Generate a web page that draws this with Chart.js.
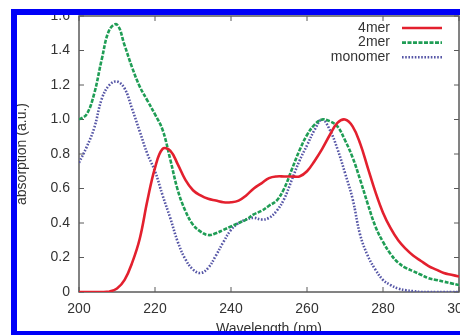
<!DOCTYPE html>
<html>
<head>
<meta charset="utf-8">
<script src="https://cdn.jsdelivr.net/npm/chart.js@4/dist/chart.umd.min.js"></script>
<style>
  html, body { margin: 0; padding: 0; background: #fff; overflow: hidden; }
  #wrap { position: relative; width: 460px; height: 335px; }
  #chart { position: absolute; left: 0; top: 0; }
  #frame {
    position: absolute; left: 11px; top: 9px; width: 520px; height: 328px;
    box-sizing: border-box; border: 6px solid #0000f8; pointer-events: none;
  }
</style>
</head>
<body>
<div id="wrap">
  <canvas id="chart" width="460" height="335"></canvas>
  <div id="frame"></div>
</div>
<script>
// wavelength (nm)
const wavelengths = [200, 202, 204, 206, 208, 210, 212, 214, 216, 218,
  220, 222, 224, 226, 228, 230, 232, 234, 236, 238,
  240, 242, 244, 246, 248, 250, 252, 254, 256, 258,
  260, 262, 264, 266, 268, 270, 272, 274, 276, 278,
  280, 282, 284, 286, 288, 290, 292, 294, 296, 298, 300];

const tetramer = [0, 0, 0, 0, 0.003, 0.02, 0.07, 0.17, 0.31, 0.53,
  0.72, 0.83, 0.82, 0.74, 0.65, 0.59, 0.56, 0.54, 0.53, 0.52,
  0.52, 0.53, 0.56, 0.60, 0.63, 0.66, 0.67, 0.67, 0.67, 0.67,
  0.70, 0.76, 0.83, 0.91, 0.98, 1.00, 0.96, 0.86, 0.72, 0.58,
  0.46, 0.37, 0.30, 0.25, 0.21, 0.18, 0.15, 0.13, 0.11, 0.10, 0.09];

const dimer = [1.00, 1.03, 1.15, 1.35, 1.52, 1.55, 1.43, 1.30, 1.19, 1.11,
  1.03, 0.94, 0.77, 0.59, 0.47, 0.39, 0.35, 0.33, 0.34, 0.36,
  0.38, 0.40, 0.42, 0.45, 0.47, 0.50, 0.53, 0.60, 0.71, 0.82,
  0.91, 0.97, 1.00, 0.99, 0.96, 0.88, 0.78, 0.65, 0.51, 0.38,
  0.29, 0.22, 0.17, 0.14, 0.12, 0.10, 0.08, 0.07, 0.06, 0.05, 0.04];

const monomer = [0.75, 0.84, 0.95, 1.12, 1.20, 1.22, 1.18, 1.06, 0.93, 0.80,
  0.70, 0.56, 0.43, 0.29, 0.19, 0.13, 0.11, 0.14, 0.21, 0.29,
  0.36, 0.40, 0.42, 0.43, 0.42, 0.43, 0.47, 0.54, 0.65, 0.76,
  0.85, 0.94, 1.00, 0.94, 0.83, 0.69, 0.54, 0.33, 0.21, 0.13,
  0.07, 0.04, 0.02, 0.01, 0.005, 0, 0, 0, 0, 0, 0];

const xTicks = [200, 220, 240, 260, 280, 300];
const yTicks = [0, 0.2, 0.4, 0.6, 0.8, 1, 1.2, 1.4, 1.6];

const axisColor = '#5a5a5a';
const textColor = '#333';
const font = { family: "'Liberation Sans', Arial, sans-serif", size: 14 };

function pts(ys) {
    return wavelengths.map((x, i) => ({ x: x, y: ys[i] }));
}

// gnuplot style frame with inward ticks on all four sides
const framePlugin = {
    id: 'framePlugin',
    beforeDatasetsDraw(chart) {
        const { ctx, chartArea: { left, right, top, bottom }, scales: { x, y } } = chart;
        ctx.save();
        ctx.strokeStyle = axisColor;
        ctx.lineWidth = 1.5;
        ctx.strokeRect(left, top, right - left, bottom - top);
        ctx.lineWidth = 1;
        ctx.beginPath();
        xTicks.forEach(t => {
            const px = x.getPixelForValue(t);
            ctx.moveTo(px, bottom); ctx.lineTo(px, bottom - 5);
            ctx.moveTo(px, top); ctx.lineTo(px, top + 5);
        });
        yTicks.forEach(t => {
            const py = y.getPixelForValue(t);
            ctx.moveTo(left, py); ctx.lineTo(left + 5, py);
            ctx.moveTo(right, py); ctx.lineTo(right - 5, py);
        });
        ctx.stroke();
        ctx.restore();
    }
};

// legend: text right aligned, line sample on the right
const keyPlugin = {
    id: 'keyPlugin',
    afterDraw(chart) {
        const ctx = chart.ctx;
        ctx.save();
        ctx.font = font.size + 'px ' + font.family;
        ctx.textAlign = 'right';
        ctx.textBaseline = 'middle';
        chart.data.datasets.forEach((ds, i) => {
            const yy = 28 + i * 14.6;
            ctx.fillStyle = textColor;
            ctx.fillText(ds.label, 390, yy);
            ctx.strokeStyle = ds.borderColor;
            ctx.lineWidth = ds.borderWidth;
            ctx.setLineDash(ds.borderDash || []);
            ctx.beginPath();
            ctx.moveTo(402, yy);
            ctx.lineTo(442, yy);
            ctx.stroke();
        });
        ctx.restore();
    }
};

new Chart(document.getElementById('chart').getContext('2d'), {
    type: 'line',
    data: {
        datasets: [
            { label: '4mer', data: pts(tetramer), borderColor: '#e3202e', borderWidth: 2.6, borderDash: [] },
            { label: '2mer', data: pts(dimer), borderColor: '#1f9d55', borderWidth: 2.6, borderDash: [4, 1.5] },
            { label: 'monomer', data: pts(monomer), borderColor: '#5656a6', borderWidth: 2.6, borderDash: [1.6, 1.6] }
        ]
    },
    options: {
        responsive: false,
        animation: false,
        devicePixelRatio: 1,
        layout: { padding: { left: 0, right: 1, top: 16, bottom: 0 } },
        elements: {
            point: { radius: 0 },
            line: { tension: 0.4, fill: false }
        },
        plugins: { legend: { display: false }, tooltip: { enabled: false } },
        scales: {
            x: {
                type: 'linear',
                min: 200, max: 300,
                grid: { display: false, drawTicks: false },
                border: { display: false },
                afterBuildTicks: s => { s.ticks = xTicks.map(v => ({ value: v })); },
                ticks: { color: textColor, font: font, padding: 9, maxRotation: 0 },
                title: { display: true, text: 'Wavelength (nm)', color: textColor, font: { ...font, lineHeight: 0.8 }, padding: 0 },
                afterFit: s => { s.height = 43; s.paddingLeft = 0; s.paddingRight = 0; }
            },
            y: {
                min: 0, max: 1.6,
                grid: { display: false, drawTicks: false },
                border: { display: false },
                afterBuildTicks: s => { s.ticks = yTicks.map(v => ({ value: v })); },
                ticks: { color: textColor, font: font, padding: 9 },
                title: { display: true, text: 'absorption (a.u.)', color: textColor, font: font, padding: { top: 14, bottom: 0 } },
                afterFit: s => { s.width = 79; s.paddingTop = 0; s.paddingBottom = 0; }
            }
        }
    },
    plugins: [framePlugin, keyPlugin]
});
</script>
</body>
</html>
